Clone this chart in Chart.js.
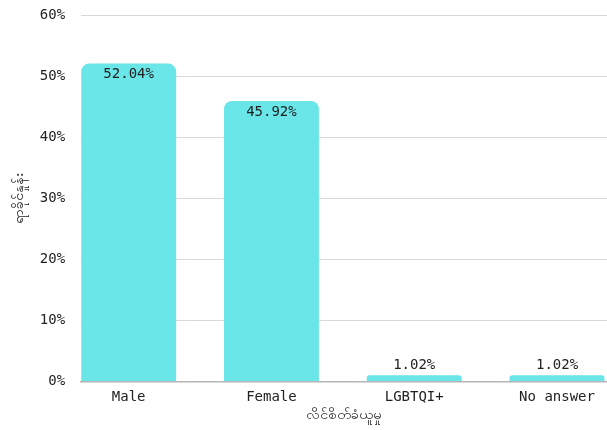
<!DOCTYPE html>
<html>
<head>
<meta charset="utf-8">
<script src="https://cdn.jsdelivr.net/npm/chart.js@4/dist/chart.umd.min.js"></script>
<style>
  html, body { margin: 0; padding: 0; background: #fff; }
  #wrap { width: 607px; height: 430px; }
</style>
</head>
<body>
<div id="wrap"><canvas id="myChart"></canvas></div>
<script>
const categories = ['Male', 'Female', 'LGBTQI+', 'No answer']
const percents = [52.04, 45.92, 1.02, 1.02]
const yTicks = [0, 10, 20, 30, 40, 50, 60]
const xTitle = 'လိင်စိတ်ခံယူမှု'
const yTitle = 'ရာခိုင်နှုန်း'

const mono = "'DejaVu Sans Mono', monospace"

// value labels on top of bars (inside for tall ones, above for tiny ones)
const barLabels = {
    id: 'barLabels',
    afterDatasetsDraw(chart) {
        const ctx = chart.ctx
        const meta = chart.getDatasetMeta(0)
        ctx.save()
        ctx.font = '14px ' + mono
        ctx.fillStyle = '#222'
        ctx.textAlign = 'center'
        meta.data.forEach((bar, i) => {
            const txt = percents[i].toFixed(2) + '%'
            const h = bar.base - bar.y
            if (h > 30) {
                ctx.textBaseline = 'top'
                ctx.fillText(txt, bar.x, bar.y + 4)
            } else {
                ctx.textBaseline = 'bottom'
                ctx.fillText(txt, bar.x, bar.y - 3)
            }
        })
        ctx.restore()
    }
}

const data = {
    datasets: [{
        data: percents.map((v, i) => ({x: i, y: v})),
        backgroundColor: '#6ae5e8',
        borderRadius: 8,
        borderSkipped: 'bottom',
        categoryPercentage: 1,
        barPercentage: 0.665
    }]
}

const config = {
    type: 'bar',
    data: data,
    plugins: [barLabels],
    options: {
        responsive: true,
        maintainAspectRatio: false,
        animation: false,
        layout: { padding: { top: 15, right: 0, left: 11, bottom: 6 } },
        plugins: {
            legend: { display: false },
            tooltip: { enabled: false }
        },
        scales: {
            x: {
                type: 'linear',
                offset: false,
                min: -0.333,
                max: 3.35,
                afterBuildTicks: (axis) => { axis.ticks = categories.map((c, i) => ({value: i})) },
                grid: { display: false },
                border: { display: true, color: '#b5b5b5', width: 1.5 },
                ticks: {
                    autoSkip: false,
                    maxRotation: 0,
                    color: '#222',
                    font: { family: mono, size: 14 },
                    padding: 0,
                    callback: (v) => categories[v]
                },
                title: {
                    display: true,
                    text: xTitle,
                    color: '#222',
                    font: { size: 14 },
                    padding: { top: 1, bottom: 0 }
                }
            },
            y: {
                min: 0,
                max: 60,
                afterBuildTicks: (axis) => { axis.ticks = yTicks.map(v => ({value: v})) },
                // keep tick padding from pushing the chart area down
                afterFit: (axis) => { axis.paddingTop = 0; axis.paddingBottom = 0 },
                grid: { color: '#d9d9d9', drawTicks: false },
                border: { display: false },
                ticks: {
                    color: '#222',
                    font: { family: mono, size: 14 },
                    padding: 16,
                    callback: (v) => v + '%'
                },
                title: {
                    display: true,
                    text: yTitle,
                    color: '#222',
                    font: { size: 14 },
                    padding: { top: 0, bottom: -4 }
                }
            }
        }
    }
}

const myChart = new Chart(document.getElementById('myChart'), config)
</script>
</body>
</html>
